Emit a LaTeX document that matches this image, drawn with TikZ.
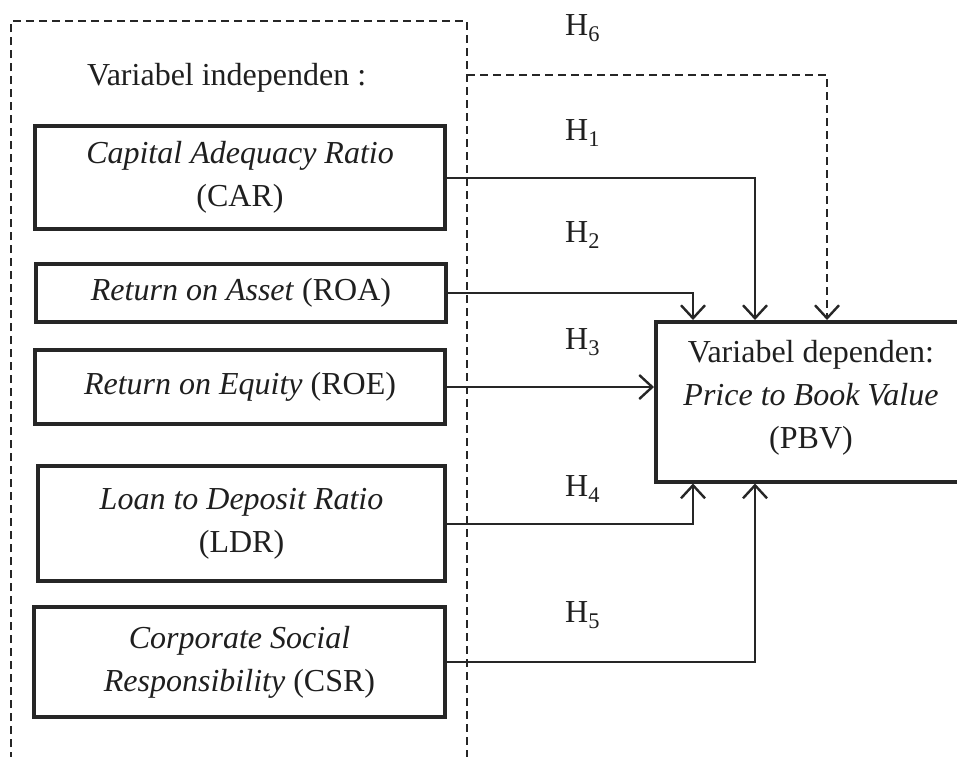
\documentclass[tikz,border=0pt]{standalone}
\usepackage{fontspec}
\setmainfont{Liberation Serif}
\usetikzlibrary{arrows.meta,calc}
\begin{document}
\begin{tikzpicture}[x=1pt,y=-1pt,
  txt/.style={font=\fontsize{32}{43}\selectfont,text=black!88},
  varbox/.style={txt,draw=black!85,line width=3.5pt,align=center,inner sep=0pt},
  conn/.style={draw=black!85,line width=2pt,-{Straight Barb[length=13pt,width=24pt,line width=2.4pt]}},
  dconn/.style={draw=black!85,line width=2.8pt,dash pattern=on 8pt off 5pt,-{Straight Barb[length=13pt,width=24pt,line width=2.4pt]}},
  outer/.style={draw=black!85,line width=2.8pt,dash pattern=on 8pt off 5pt},
  hlab/.style={txt,anchor=base west,inner sep=0pt}]
\clip (0,0) rectangle (957,756);
\fill[white] (0,0) rectangle (957,756);
% outer dashed container
\coordinate (obl) at (11,760);
\coordinate (otl) at (11,21);
\coordinate (otr) at (467,21);
\coordinate (obr) at (467,760);
\draw[outer] (obl) -- (otl) -- (otr) -- (obr);
\node[txt,anchor=base west,inner sep=0pt] (indep) at (87,85) {Variabel independen :};
% independent variables
\node[varbox,minimum width=410pt,minimum height=103pt] (CAR) at (240,177.5) {\textit{Capital Adequacy Ratio}\\(CAR)};
\node[varbox,minimum width=410pt,minimum height=58pt] (ROA) at (241,293) {\textit{Return on Asset} (ROA)};
\node[varbox,minimum width=410pt,minimum height=74pt] (ROE) at (240,387) {\textit{Return on Equity} (ROE)};
\node[varbox,minimum width=407pt,minimum height=115pt] (LDR) at (241.5,523.5) {\textit{Loan to Deposit Ratio}\\(LDR)};
\node[varbox,minimum width=411pt,minimum height=110pt] (CSR) at (239.5,662) {\textit{Corporate Social}\\\textit{Responsibility} (CSR)};
% dependent variable
\node[varbox,minimum width=320pt,minimum height=160pt,anchor=north west] (PBV) at (654,320) {};
\node[txt,align=center,inner sep=0pt] (PBVt) at (811,398) {Variabel dependen:\\\textit{Price to Book Value}\\(PBV)};
% connectors
\draw[conn] (CAR.east) -| ($(PBV.north west)+(101,0)$);
\draw[conn] (ROA.east) -| ($(PBV.north west)+(39,0)$);
\draw[conn] (ROE.east) -- (ROE.east -| PBV.west);
\draw[conn] (LDR.east) -| ($(PBV.south west)+(39,0)$);
\draw[conn] (CSR.east) -| ($(PBV.south west)+(101,0)$);
\coordinate (h6s) at (467,75);
\draw[dconn] (h6s) -| ($(PBV.north west)+(173,0)$);
% hypothesis labels
\node[hlab] (H6) at (565,35) {H\textsubscript{6}};
\node[hlab] (H1) at (565,140) {H\textsubscript{1}};
\node[hlab] (H2) at (565,242) {H\textsubscript{2}};
\node[hlab] (H3) at (565,349) {H\textsubscript{3}};
\node[hlab] (H4) at (565,496) {H\textsubscript{4}};
\node[hlab] (H5) at (565,622) {H\textsubscript{5}};
\end{tikzpicture}
\end{document}
